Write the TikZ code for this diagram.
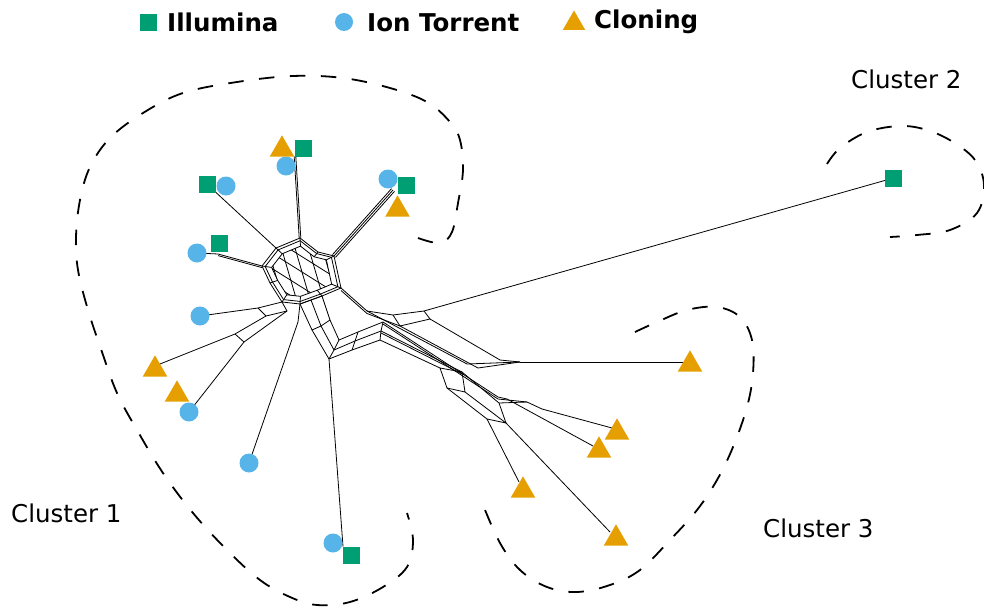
\documentclass[tikz,border=0pt]{standalone}
\usepackage{fontspec}
\setmainfont{DejaVu Sans}
\usetikzlibrary{calc,shapes.geometric}
\definecolor{illu}{HTML}{009E73}
\definecolor{ion}{HTML}{56B4E9}
\definecolor{clon}{HTML}{E69F00}
\begin{document}
\begin{tikzpicture}[x=1pt,y=-1pt,
  sq/.style={rectangle,fill=illu,minimum size=17pt,inner sep=0pt},
  ci/.style={circle,fill=ion,minimum size=19pt,inner sep=0pt},
  tr/.style={regular polygon,regular polygon sides=3,fill=clon,minimum size=28.5pt,inner sep=0pt},
  web/.style={line width=0.8pt,line join=round},
  hull/.style={line width=1.8pt,dash pattern=on 15.5pt off 15.5pt},
  lab/.style={font=\fontsize{24.5}{29}\selectfont,inner sep=0pt,anchor=base west},
  leg/.style={font=\fontsize{24.5}{29}\selectfont\bfseries,inner sep=0pt,anchor=base west}]
\useasboundingbox (0,0) rectangle (984,610);

% ---------- cluster hulls ----------
\draw[hull] plot[smooth,tension=0.6] coordinates {(418,238) (440,243) (452,232) (458,203) (463,170) (460,140) (450,122) (427,102) (390,88) (343,78) (293,76) (237,82) (183,93) (143,113) (110,138) (90,167) (80,200) (76,237) (78,270) (88,310) (102,352) (117,393) (137,430) (163,473) (193,513) (227,550) (260,580) (290,597) (317,605) (350,602) (383,587) (407,567) (413,540) (407,513)};
\draw[hull] plot[smooth,tension=0.6] coordinates {(827,164) (840,148) (867,132) (900,126) (927,130) (953,142) (975,160) (984,185) (977,213) (950,230) (917,235) (890,237)};
\draw[hull] plot[smooth,tension=0.6] coordinates {(635,332) (657,322) (687,310) (717,307) (740,317) (752,340) (753,373) (747,407) (733,447) (717,480) (697,510) (670,540) (640,570) (610,585) (577,592) (547,587) (520,570) (500,543) (483,505)};

% ---------- cluster labels ----------
\node[lab] (l1) at (11,522) {Cluster 1};
\node[lab] (l2) at (851,88) {Cluster 2};
\node[lab] (l3) at (763,537) {Cluster 3};

% ---------- legend ----------
\node[sq] (legS) at (148,23) {};
\node[leg] (legSt) at (167,32) {Illumina};
\node[ci,minimum size=18pt] (legC) at (344,22) {};
\node[leg] (legCt) at (367,32) {Ion Torrent};
\node[tr,minimum size=26pt] (legT) at (574,23.5) {};
\node[leg] (legTt) at (594,29) {Cloning};

% ---------- central web ----------
\coordinate (c) at (302,272);
\foreach \i/\x/\y in {1/262/266,2/276/248,3/300/238,4/318/252,5/334/256,6/341/288,7/322/296,8/300/304,9/282/302,10/270/283}
  {\coordinate (o\i) at (\x,\y);}
\foreach \i in {1,...,10}{
  \coordinate (d\i) at ($(c)!0.92!(o\i)$);
  \coordinate (m\i) at ($(c)!0.76!(o\i)$);
}
\draw[web] (o1) \foreach \i in {2,...,10}{-- (o\i)} -- cycle;
\draw[web] (d1) \foreach \i in {2,...,10}{-- (d\i)} -- cycle;
\draw[web] (m1) \foreach \i in {2,...,10}{-- (m\i)} -- cycle;
\foreach \i in {1,...,10}{\draw[web] (o\i) -- (m\i);}
\begin{scope}
  \clip (m1) \foreach \i in {2,...,10}{-- (m\i)} -- cycle;
  \foreach \k in {-2,...,2}{
    \draw[web] ($(c)+(-\k*6.9,\k*11)$) ++(-51,-32) -- ++(102,64);
    \draw[web] ($(c)+(\k*12.5,-\k*3.8)$) ++(-17,-58) -- ++(34,116);
  }
\end{scope}

% ---------- markers' free ends ----------
\coordinate (rt) at (393,190);
\coordinate (lb) at (218,254);

% ---------- upper branches ----------
\coordinate (ta) at (295,156.5);
\draw[web] ([xshift=-0.8pt]ta) -- ([xshift=-0.8pt]o3);
\draw[web] ([xshift=0.8pt]ta) -- ([xshift=0.8pt]o3);
\draw[web] (216,192.5) coordinate (tb) -- (o2);
\draw[web] (197,253) coordinate (lc) -- (lb) -- (o1);
\draw[web] ([yshift=-1.6pt]lb) -- ([yshift=-1.6pt]o1);
\foreach \s in {-2,0,2}{\draw[web] ([shift={(\s*0.75,\s*0.67)}]rt) -- ([shift={(\s*0.75,\s*0.67)}]o5);}

% ---------- lower-left branches ----------
\coordinate (q1) at (258,308);
\coordinate (q3) at (287,311);
\coordinate (q4) at (266,316);
\coordinate (q5) at (235,334);
\coordinate (q6) at (244,342);
\coordinate (q8) at (298,322);
\draw[web] (200,316) coordinate (ce) -- (q1) -- (o9);
\draw[web] (q1) -- (q4) -- (q3) -- (o9);
\draw[web] (155,366) coordinate (tf) -- (q5) -- (q4);
\draw[web] (q5) -- (q6) -- (q3);
\draw[web] (189,412) coordinate (cg) -- (q6);
\draw[web] (249,463) coordinate (ch) -- (q8) -- (o8);

% ---------- curved grid below the centre ----------
\foreach \i/\x/\y in {2/312/330,3/329/359,4/352/350,5/380/340}{\coordinate (ga\i) at (\x,\y);}
\foreach \i/\x/\y in {1/311/300,2/321/326,3/334/350,4/355/341,5/381/331}{\coordinate (gb\i) at (\x,\y);}
\foreach \i/\x/\y in {2/330/320,3/339/340,4/358/332,5/383/322}{\coordinate (gc\i) at (\x,\y);}
\coordinate (ga1) at (o8);
\coordinate (gc1) at (o7);
\draw[web] (ga1) -- (ga2) -- (ga3) -- (ga4) -- (ga5);
\draw[web] (gb1) -- (gb2) -- (gb3) -- (gb4) -- (gb5);
\draw[web] (gc1) -- (gc2) -- (gc3) -- (gc4) -- (gc5);
\foreach \i in {2,...,5}{\draw[web] (ga\i) -- (gb\i) -- (gc\i);}
\draw[web] (ga1) -- (gb1) -- (gc1);
\draw[web] (343,546.5) coordinate (si) -- (ga3);

% ---------- backbone to clusters 2 and 3 ----------
\coordinate (u1) at (367,311);
\coordinate (u2) at (393,315);
\coordinate (K)  at (424,311);
\coordinate (u3) at (400,326);
\coordinate (u4) at (430,319);
\coordinate (u5) at (500,360);
\coordinate (u6) at (467,364);
\coordinate (u7) at (478,368);
\coordinate (e1) at (520,362);
\coordinate (v2) at (462,372);
\coordinate (v3) at (498,397);
\coordinate (v4) at (527,402);
\coordinate (v5) at (440,368);
\coordinate (v6) at (447,388);
\coordinate (v7) at (465,392);
\coordinate (w)  at (499,403);
\coordinate (e2) at (542,409);
\coordinate (e3) at (507,399);
\coordinate (e4) at (487,419);
\coordinate (e5) at (506,423);

\draw[web] (o6) -- (u1) -- (u2) -- (K);
\draw[web] ([yshift=-2.5pt]o6) -- ([yshift=-2.5pt]u1) -- (u3);
\draw[web] (u2) -- (u3) -- (u4) -- (K);
\draw[web] (u4) -- (u5) -- (e1);
\draw[web] (u1) -- (u6) -- (e1);
\draw[web] (u3) -- (u7) -- (e1);
\draw[web] (gc5) -- (v3) -- (e3);
\draw[web] ([yshift=-2pt]gc5) -- ([yshift=-2pt]v3) -- (v4);
\draw[web] (gb5) -- (v2);
\draw[web] ([yshift=-2pt]gb5) -- ([yshift=-2pt]v2);
\draw[web] (ga5) -- (v5);
\draw[web] (v5) -- (v6) -- (v7) -- (v2) -- cycle;
\draw[web] (v6) -- (e4) -- (e5) -- (v7);
\draw[web] (e5) -- (w) -- (v2);
\draw[web] (w) -- (v4) -- (e2);

% ---------- leaves ----------
\draw[web] (K) -- (893.5,178) coordinate (sk);
\draw[web] (e1) -- (683,362) coordinate (t1);
\draw[web] (e2) -- (612,428) coordinate (t2);
\draw[web] (e3) -- (593,446) coordinate (t3);
\draw[web] (e4) -- (519,482) coordinate (t4);
\draw[web] (e5) -- (610,532) coordinate (t5);

% ---------- markers ----------
% Illumina
\node[sq] (sqA) at (303.5,148) {};
\node[sq] (sqB) at (207.5,184) {};
\node[sq] (sqC) at (219.5,243) {};
\node[sq] (sqD) at (406.5,185) {};
\node[sq] (sqI) at (351.5,555) {};
\node[sq] (sqK) at (sk) {};
% Ion Torrent
\node[ci] (ciA) at (286,166) {};
\node[ci] (ciB) at (226,186) {};
\node[ci] (ciC) at (lc) {};
\node[ci] (ciD) at (388,179) {};
\node[ci] (ciE) at (ce) {};
\node[ci] (ciG) at (cg) {};
\node[ci] (ciH) at (ch) {};
\node[ci] (ciI) at (333,543) {};
% Cloning
\node[tr] (trA) at (282,149.6) {};
\node[tr] (trD) at (397.5,209.6) {};
\node[tr] (trF1) at (155,369.6) {};
\node[tr] (trF2) at (177,394.6) {};
\node[tr] (trT1) at (690,364.6) {};
\node[tr] (trT2) at (617,432.6) {};
\node[tr] (trT3) at (599,450.6) {};
\node[tr] (trT4) at (523,490.6) {};
\node[tr] (trT5) at (616,538.6) {};
\end{tikzpicture}
\end{document}
